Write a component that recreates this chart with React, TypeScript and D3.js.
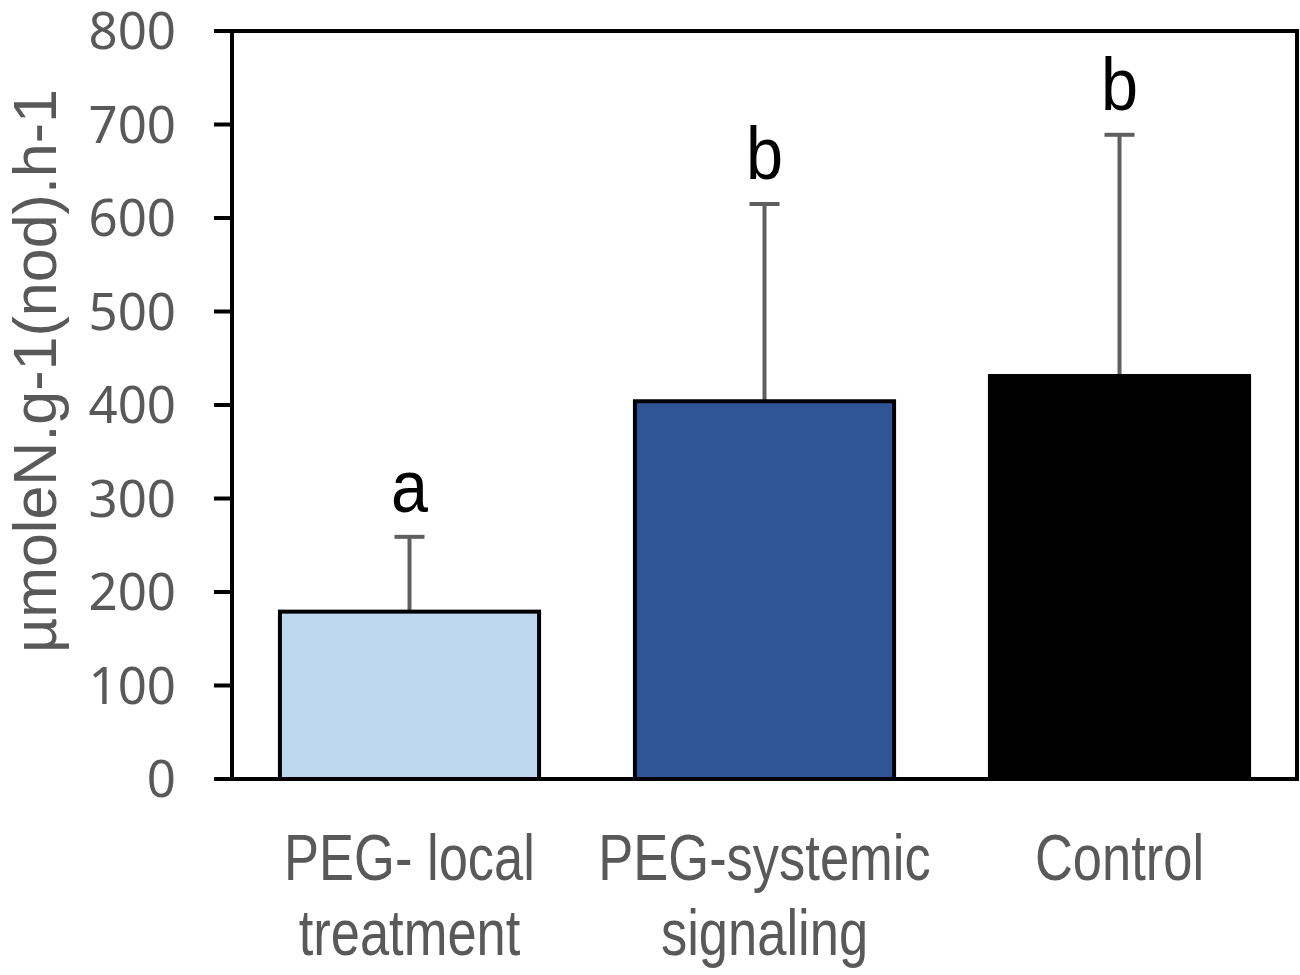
import React, { useRef, useEffect } from 'react';
import * as d3 from 'd3';

const categories: string[][] = [
    ['PEG- local', 'treatment'],
    ['PEG-systemic', 'signaling'],
    ['Control'],
];
const means: number[] = [179, 404, 431];
const errors: number[] = [80, 211, 258];
const letters: string[] = ['a', 'b', 'b'];
const barColors: string[] = ['#BDD7EE', '#2F5597', '#000000'];
const yTicks: number[] = [0, 100, 200, 300, 400, 500, 600, 700, 800];

const App: React.FC = () => {
    const svgRef = useRef<SVGSVGElement | null>(null);

    useEffect(() => {
        document.body.style.margin = '0';
        const width = 1300;
        const height = 975;
        const margin = { top: 31, right: 3, bottom: 196, left: 232 };

        const svg = d3.select(svgRef.current);
        svg.selectAll('*').remove();

        const x = d3.scaleBand<number>()
            .domain(d3.range(categories.length))
            .range([margin.left, width - margin.right])
            .paddingInner(0.27)
            .paddingOuter(0.135);

        const y = d3.scaleLinear()
            .domain([0, 800])
            .range([height - margin.bottom, margin.top]);

        const grey = '#595959';

        // frame
        svg.append('rect')
            .attr('x', margin.left)
            .attr('y', y(800))
            .attr('width', width - margin.right - margin.left)
            .attr('height', y(0) - y(800))
            .attr('fill', 'none')
            .attr('stroke', '#000')
            .attr('stroke-width', 4);

        // y ticks
        const ticks = svg.append('g');
        ticks.selectAll('line')
            .data(yTicks)
            .enter().append('line')
            .attr('x1', margin.left - 18)
            .attr('x2', margin.left)
            .attr('y1', d => y(d))
            .attr('y2', d => y(d))
            .attr('stroke', '#000')
            .attr('stroke-width', 4);
        ticks.selectAll('text')
            .data(yTicks)
            .enter().append('text')
            .attr('x', 176)
            .attr('y', d => y(d))
            .attr('dy', '0.36em')
            .attr('text-anchor', 'end')
            .attr('font-family', 'Noto Sans, Open Sans, sans-serif')
            .attr('font-size', 51)
            .attr('fill', grey)
            .text(d => d);

        // bottom axis line extends to tick length
        svg.append('line')
            .attr('x1', margin.left - 18)
            .attr('x2', width - margin.right + 2)
            .attr('y1', y(0))
            .attr('y2', y(0))
            .attr('stroke', '#000')
            .attr('stroke-width', 4);

        // error bars
        const err = svg.append('g');
        means.forEach((m, i) => {
            const cx = (x(i) as number) + x.bandwidth() / 2;
            err.append('line')
                .attr('x1', cx).attr('x2', cx)
                .attr('y1', y(m)).attr('y2', y(m + errors[i]))
                .attr('stroke', '#5f5f5f')
                .attr('stroke-width', 4);
            err.append('line')
                .attr('x1', cx - 15).attr('x2', cx + 15)
                .attr('y1', y(m + errors[i])).attr('y2', y(m + errors[i]))
                .attr('stroke', '#5f5f5f')
                .attr('stroke-width', 4);
        });

        // bars
        svg.append('g').selectAll('rect')
            .data(means)
            .enter().append('rect')
            .attr('x', (d, i) => x(i) as number)
            .attr('y', d => y(d))
            .attr('width', x.bandwidth())
            .attr('height', d => y(0) - y(d))
            .attr('fill', (d, i) => barColors[i])
            .attr('stroke', '#000')
            .attr('stroke-width', 4);

        // significance letters
        svg.append('g').selectAll('text')
            .data(letters)
            .enter().append('text')
            .attr('transform', (d, i) =>
                `translate(${(x(i) as number) + x.bandwidth() / 2},${y(means[i] + errors[i]) - 25}) scale(0.9,1)`)
            .attr('text-anchor', 'middle')
            .attr('font-family', 'Liberation Sans, Arial, sans-serif')
            .attr('font-size', 74)
            .attr('fill', '#000')
            .text(d => d);

        // category labels (narrow face)
        const cat = svg.append('g');
        categories.forEach((lines, i) => {
            const t = cat.append('text')
                .attr('transform', `translate(${(x(i) as number) + x.bandwidth() / 2},880) scale(0.82,1)`)
                .attr('text-anchor', 'middle')
                .attr('font-family', 'Liberation Sans, Arial, sans-serif')
                .attr('font-size', 64)
                .attr('fill', grey);
            lines.forEach((l, j) => {
                t.append('tspan')
                    .attr('x', 0)
                    .attr('dy', j === 0 ? 0 : 75)
                    .text(l);
            });
        });

        // y axis title
        svg.append('text')
            .attr('transform', 'translate(56,371) rotate(-90)')
            .attr('text-anchor', 'middle')
            .attr('font-family', 'Liberation Sans, Arial, sans-serif')
            .attr('font-size', 61)
            .attr('fill', grey)
            .text('µmoleN.g-1(nod).h-1');
    }, []);

    return (
        <svg ref={svgRef} width={1300} height={975} style={{ display: 'block', background: '#fff' }}></svg>
    );
};

export default App;
